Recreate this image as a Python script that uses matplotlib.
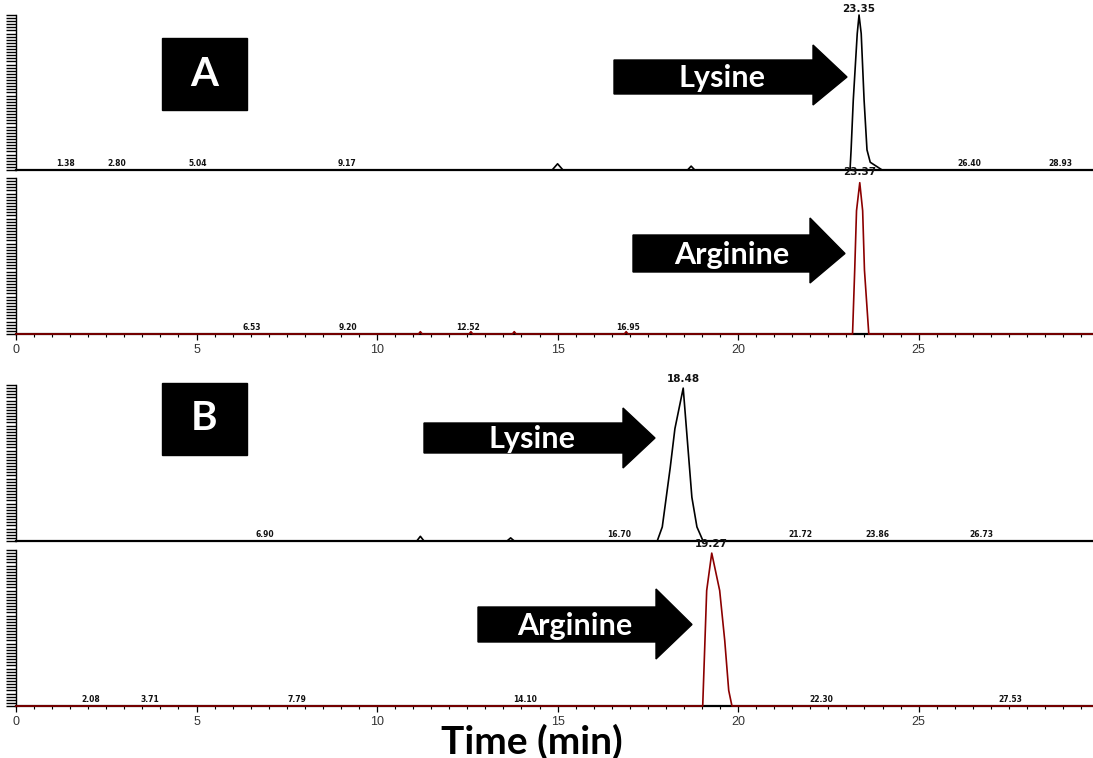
import matplotlib
matplotlib.use('Agg')
import matplotlib.pyplot as plt
from matplotlib.patches import Rectangle, Polygon
from matplotlib.ticker import MultipleLocator

# chromatogram traces: retention time (min) and relative intensity (%)
lys_a_t = [0, 14.85, 15.0, 15.15, 18.6, 18.7, 18.8, 23.10, 23.13, 23.19, 23.30,
           23.35, 23.41, 23.49, 23.57, 23.66, 23.99, 29.83]
lys_a_y = [0, 0, 4, 0, 0, 2.5, 0, 0, 13, 45, 88, 100, 88, 45, 13, 5, 0, 0]

arg_a_t = [0, 11.15, 11.2, 11.25, 12.55, 12.6, 12.65, 13.75, 13.8, 13.85,
           16.85, 16.9, 16.95, 23.17, 23.23, 23.28, 23.37, 23.45, 23.50, 23.62, 29.83]
arg_a_y = [0, 0, 1.5, 0, 0, 1.5, 0, 0, 1.5, 0, 0, 1.5, 0, 0, 41, 79, 97, 79, 41, 0, 0]

lys_b_t = [0, 11.1, 11.2, 11.3, 13.6, 13.7, 13.8, 17.76, 17.90, 18.12, 18.25,
           18.48, 18.61, 18.72, 18.86, 19.03, 29.83]
lys_b_y = [0, 0, 3, 0, 0, 2, 0, 0, 9, 47, 72, 98, 60, 28, 9, 0, 0]

arg_b_t = [0, 19.02, 19.13, 19.27, 19.49, 19.63, 19.74, 19.83, 19.99, 29.83]
arg_b_y = [0, 0, 74, 98, 74, 42, 10, 0, 0, 0]

# integration labels on the baseline (retention times)
lys_a_marks = [1.38, 2.80, 5.04, 9.17, 26.40, 28.93]
arg_a_marks = [6.53, 9.20, 12.52, 16.95]
lys_b_marks = [6.90, 16.70, 21.72, 23.86, 26.73]
arg_b_marks = [2.08, 3.71, 7.79, 14.10, 22.30, 27.53]

# apex labels
lys_a_apex = (23.35, '23.35')
arg_a_apex = (23.37, '23.37')
lys_b_apex = (18.48, '18.48')
arg_b_apex = (19.27, '19.27')

x_ticks = [0, 5, 10, 15, 20, 25]

W, H = 1093, 758
fig = plt.figure(figsize=(W / 100, H / 100), dpi=100)
RED = '#8b0000'


def fx(x):
    return x / W


def fy(y):
    return 1 - y / H


def make_axes(top, bottom, show_ticks):
    ax = fig.add_axes([fx(16), fy(bottom), fx(W - 16), (bottom - top) / H])
    ax.set_xlim(0, 29.83)
    ax.set_ylim(0, 100)
    for s in ['top', 'right']:
        ax.spines[s].set_visible(False)
    ax.spines['bottom'].set_linewidth(1.6)
    ax.spines['left'].set_linewidth(1.0)
    ax.yaxis.set_major_locator(MultipleLocator(2))
    ax.tick_params(axis='y', which='major', length=7, width=1.0,
                   direction='out', labelleft=False)
    if show_ticks:
        ax.set_xticks(x_ticks)
        ax.xaxis.set_minor_locator(MultipleLocator(0.5))
        ax.tick_params(axis='x', which='major', length=4, width=0.9, pad=3,
                       labelsize=9, labelcolor='#333333')
        ax.tick_params(axis='x', which='minor', length=2.5, width=0.8)
        for lab in ax.get_xticklabels():
            lab.set_family('Liberation Sans')
    else:
        ax.set_xticks([])
    ax.patch.set_alpha(0)
    return ax


def draw_trace(ax, t, y, color, marks, apex):
    ax.plot(t, y, color=color, lw=1.2, clip_on=False, zorder=3)
    for m in marks:
        ax.text(m, 1.5, f'{m:.2f}', fontsize=5.5, fontweight='bold',
                ha='center', va='bottom', color='#111111')
    ax.text(apex[0], 100.5, apex[1], fontsize=7.5, fontweight='bold',
            ha='center', va='bottom', color='#111111', clip_on=False)


def box_label(x0, x1, y0, y1, letter):
    fig.patches.append(Rectangle((fx(x0), fy(y1)), fx(x1 - x0), (y1 - y0) / H,
                                 transform=fig.transFigure, color='black'))
    fig.text(fx((x0 + x1) / 2), fy((y0 + y1) / 2), letter, color='white',
             fontsize=29, fontweight='bold', family='Lato',
             ha='center', va='center')


def arrow_label(x0, xh, xt, bt, bb, ht, hb, text, tx):
    yt = (bt + bb) / 2
    pts = [(x0, bt), (xh, bt), (xh, ht), (xt, yt), (xh, hb), (xh, bb), (x0, bb)]
    fig.patches.append(Polygon([(fx(a), fy(b)) for a, b in pts], closed=True,
                               transform=fig.transFigure, color='black'))
    fig.text(fx(tx), fy(yt + 1), text, color='white', fontsize=22,
             fontweight='bold', family='Lato', ha='center', va='center')


ax1 = make_axes(15, 170, False)
draw_trace(ax1, lys_a_t, lys_a_y, 'black', lys_a_marks, lys_a_apex)

ax2 = make_axes(178, 334, True)
draw_trace(ax2, arg_a_t, arg_a_y, RED, arg_a_marks, arg_a_apex)

ax3 = make_axes(385, 541, False)
draw_trace(ax3, lys_b_t, lys_b_y, 'black', lys_b_marks, lys_b_apex)

ax4 = make_axes(550, 706, True)
draw_trace(ax4, arg_b_t, arg_b_y, RED, arg_b_marks, arg_b_apex)

box_label(162, 247, 38, 110, 'A')
box_label(162, 247, 383, 455, 'B')

arrow_label(614, 813, 847, 60, 94, 45, 105, 'Lysine', 722)
arrow_label(633, 810, 845, 235, 272, 218, 283, 'Arginine', 732)
arrow_label(424, 623, 655, 423, 453, 408, 468, 'Lysine', 532)
arrow_label(478, 656, 692, 607, 642, 589, 659, 'Arginine', 575)

fig.text(fx(532), fy(742), 'Time (min)', fontsize=28, fontweight='bold',
         family='Lato', ha='center', va='center')

fig.savefig('out.png', dpi=100)
